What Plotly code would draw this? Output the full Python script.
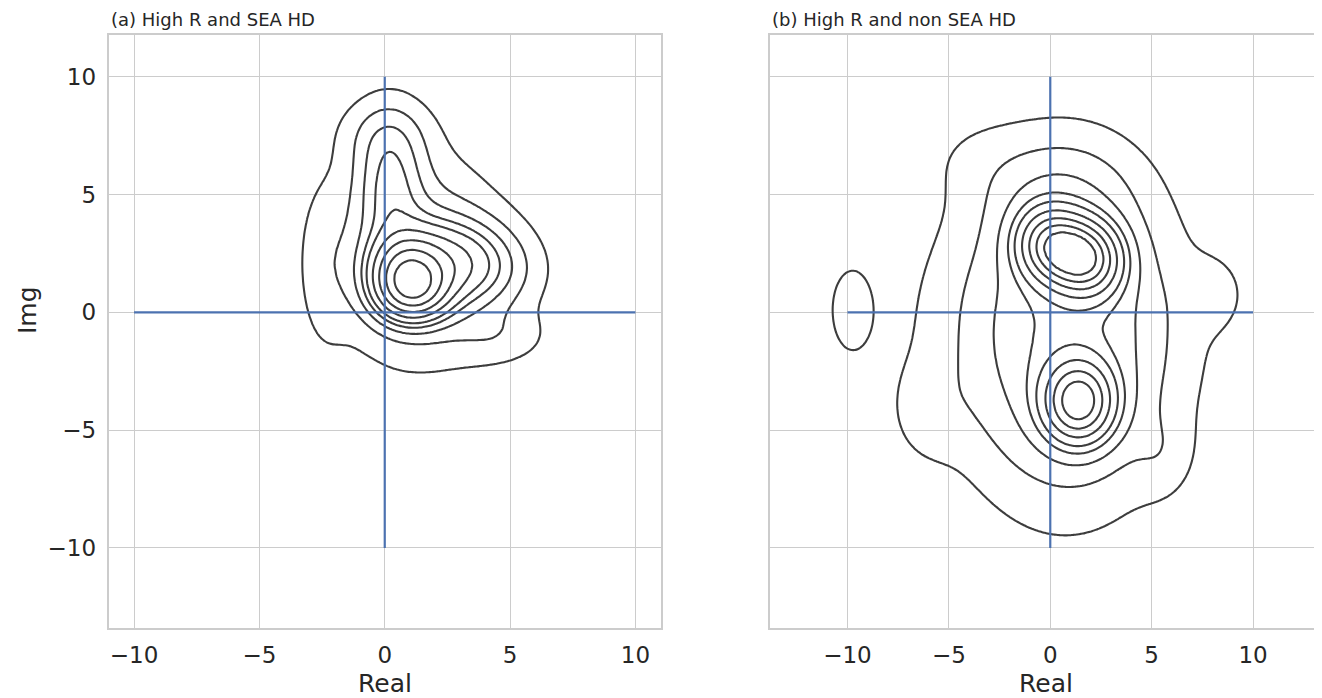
import numpy as np
import plotly.graph_objects as go

# ---------------- data (Gaussian-mixture description of each density) -------------
# panel (a): High R and SEA HD
a_w   = [0.14, 0.15, 0.11, 0.025, 0.21, 0.28, 0.02, 0.025]
a_mx  = [0.85, 1.1,  0.2,  0.0,   2.9,  1.3,  4.5, -2.4]
a_my  = [1.85, 0.85, 5.5,  7.6,   2.1,  2.2, -1.0,  2.0]
a_sx  = [0.95, 0.95, 0.9,  1.2,   1.6,  2.0,  1.3,  0.7]
a_sy  = [0.95, 0.85, 1.8,  1.0,   1.2,  2.6,  0.8,  2.5]
a_rho = [0.0,  0.0,  0.0,  0.0,  -0.1,  0.0,  0.0,  0.0]

# panel (b): High R and non SEA HD
b_w   = [0.09, 0.10, 0.09, 0.16, 0.30, 0.18, 0.04, 0.007, 0.005, 0.008, 0.006, 0.006]
b_mx  = [-0.2, 1.0,  2.1,  1.4,  0.8,  0.3,  0.5, -9.8,  8.0, -6.0,  5.5, -3.5]
b_my  = [2.9,  2.5,  2.2, -3.8, -1.0, -0.8,  5.0,  0.1,  0.8, -4.2, -6.0,  6.5]
b_sx  = [1.0,  1.0,  1.0,  1.1,  2.8,  4.2,  2.2,  0.75, 1.0,  1.2,  1.0,  1.8]
b_sy  = [1.0,  1.0,  1.0,  1.1,  4.0,  3.8,  1.5,  1.3,  1.0,  1.4,  1.2,  1.2]
b_rho = [0.0] * 12

# reference cross lines
cross_h_x = [-10, 10]
cross_h_y = [0, 0]
cross_v_x = [0, 0]
cross_v_y = [-10, 10]

titles = ["(a) High R and SEA HD", "(b) High R and non SEA HD"]
tick_vals = [-10, -5, 0, 5, 10]
tick_text = ["\u221210", "\u22125", "0", "5", "10"]

# contour levels as in seaborn (levels=10, thresh=0.05)
iso_levels = np.linspace(0.05, 1.0, 10)

# ---------------- helpers -------------
gx = np.linspace(-16, 16, 321)
gy = np.linspace(-16, 16, 321)
GX, GY = np.meshgrid(gx, gy)


def mixture(w, mx, my, sx, sy, rho):
    z = np.zeros_like(GX)
    for wi, mxi, myi, sxi, syi, ri in zip(w, mx, my, sx, sy, rho):
        dx = (GX - mxi) / sxi
        dy = (GY - myi) / syi
        q = (dx * dx - 2 * ri * dx * dy + dy * dy) / (1 - ri * ri)
        z += wi * np.exp(-0.5 * q) / (2 * np.pi * sxi * syi * np.sqrt(1 - ri * ri))
    return z


def mass_outside(z):
    flat = z.ravel()
    order = np.argsort(-flat)
    cums = np.cumsum(flat[order]) / flat.sum()
    out = np.empty_like(flat)
    out[order] = 1 - cums
    return out.reshape(z.shape)


za = mass_outside(mixture(a_w, a_mx, a_my, a_sx, a_sy, a_rho))
zb = mass_outside(mixture(b_w, b_mx, b_my, b_sx, b_sy, b_rho))

LINE = "#3d3d3d"
BLUE = "#4c72b0"
GRID = "#cccccc"
TXT = "#262626"
FONT = "DejaVu Sans"

fig = go.Figure()
step = iso_levels[1] - iso_levels[0]
for z, xa, ya in [(za, "x", "y"), (zb, "x2", "y2")]:
    fig.add_trace(go.Contour(
        x=gx, y=gy, z=z, xaxis=xa, yaxis=ya,
        contours=dict(start=iso_levels[0], end=iso_levels[-2] + 1e-6, size=step, coloring="lines"),
        colorscale=[[0, LINE], [1, LINE]], showscale=False,
        line=dict(width=2.1, smoothing=1.0), hoverinfo="skip"))
    fig.add_trace(go.Scatter(x=cross_h_x, y=cross_h_y, xaxis=xa, yaxis=ya, mode="lines",
                             line=dict(color=BLUE, width=2.2), hoverinfo="skip", showlegend=False))
    fig.add_trace(go.Scatter(x=cross_v_x, y=cross_v_y, xaxis=xa, yaxis=ya, mode="lines",
                             line=dict(color=BLUE, width=2.2), hoverinfo="skip", showlegend=False))

# the page body has an 8px margin, so the figure is 8px smaller and positions shifted by 8px
OFF = 8
W, H = 1322 - OFF, 698 - OFF
ydom = [(698 - 628) / H, (H - (35 - OFF)) / H]
xdom1 = [(108.5 - OFF) / W, (661 - OFF) / W]
xdom2 = [(770 - OFF) / W, (1321 - OFF) / W]

axis_common = dict(showgrid=True, gridcolor=GRID, gridwidth=1.4, zeroline=False,
                   showline=True, linecolor=GRID, linewidth=1.6, mirror=True,
                   ticks="outside", ticklen=6, tickcolor="rgba(0,0,0,0)",
                   tickfont=dict(family=FONT, size=23, color=TXT),
                   tickvals=tick_vals, ticktext=tick_text)

fig.update_layout(
    width=W, height=H, margin=dict(l=0, r=0, t=0, b=0),
    paper_bgcolor="white", plot_bgcolor="white", showlegend=False,
    xaxis=dict(domain=xdom1, range=[-11.02, 11.02], anchor="y", **axis_common),
    yaxis=dict(domain=ydom, range=[-13.4, 11.77], anchor="x", **axis_common),
    xaxis2=dict(domain=xdom2, range=[-13.82, 13.35], anchor="y2", **axis_common),
    yaxis2=dict(domain=ydom, range=[-13.4, 11.77], anchor="x2", showticklabels=False,
                **{k: v for k, v in axis_common.items() if k not in ("tickfont",)}),
)

ann = []
for t, xd in zip(titles, [xdom1, xdom2]):
    ann.append(dict(text=t, x=xd[0], y=ydom[1], xref="paper", yref="paper",
                    xanchor="left", yanchor="bottom", yshift=3, showarrow=False,
                    font=dict(family=FONT, size=18, color=TXT)))
    ann.append(dict(text="Real", x=(xd[0] + xd[1]) / 2, y=(H - (683 - OFF)) / H, xref="paper", yref="paper",
                    xanchor="center", yanchor="middle", showarrow=False,
                    font=dict(family=FONT, size=25, color=TXT)))
ann.append(dict(text="Img", x=(27 - OFF) / W, y=(H - (310 - OFF)) / H, xref="paper", yref="paper",
                xanchor="center", yanchor="middle", textangle=-90, showarrow=False,
                font=dict(family=FONT, size=25, color=TXT)))
fig.update_layout(annotations=ann)

fig.write_html("out.html")
